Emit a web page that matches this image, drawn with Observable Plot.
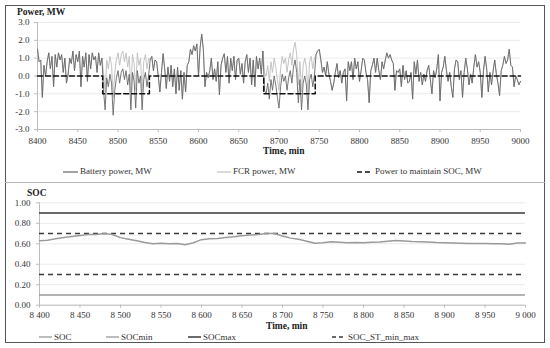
<!DOCTYPE html>
<html>
<head>
<meta charset="utf-8">
<script src="https://cdn.jsdelivr.net/npm/d3@7"></script>
<script src="https://cdn.jsdelivr.net/npm/@observablehq/plot@0.6"></script>
<style>
  html, body { margin: 0; padding: 0; background: #fff; }
  body { font-family: "Liberation Serif", "Times New Roman", serif; color: #333; }
  #fig { position: relative; width: 550px; height: 348px; overflow: hidden; }
  #frame { position: absolute; left: 5px; top: 5px; width: 540px; height: 338px; box-sizing: border-box; border: 1.5px solid #555; }
  #divider { position: absolute; left: 5px; top: 182px; width: 540px; height: 1px; background: #b5b5b5; }
  .plot { position: absolute; left: 0; }
  .title { position: absolute; font-weight: bold; font-size: 9.5px; line-height: 1; white-space: nowrap; color: #222; }
  .leg { position: absolute; font-size: 9px; line-height: 1; white-space: nowrap; display: flex; align-items: center; color: #333; }
  .leg svg { display: block; margin-right: 2px; }
</style>
</head>
<body>
<div id="fig">
  <div id="frame"></div>
  <div id="divider"></div>
</div>
<script>
// ---------- data ----------
const startMinute = 8400;
const stepMinutes = 2;

// FCR power, MW (one value every 2 min, 8400 ... 9000)
const fcrPower = [
  1.5, 0.8, 0.9, -1.2, 0.6, 0.0, 0.8, 1.3, 0.4, 1.1,
  -0.6, 1.2, 0.5, 1.3, 0.9, 1.2, 0.2, 1.0, -0.4, 0.1,
  1.0, 0.7, 1.4, 0.3, 1.2, 0.8, 1.4, -0.6, 1.1, 0.5,
  1.3, -0.3, 1.2, 0.4, 1.3, 0.9, 1.1, 0.2, 1.3, 0.6,
  1.0, 0.2, -0.9, 0.9, 0.4, 1.1, 0.6, -1.2, 0.2, 0.9,
  1.3, 0.6, 1.2, 1.4, 0.8, 1.3, 0.5, 1.1, -0.9, 1.2,
  0.7, -0.8, 1.3, 0.6, 1.0, -0.9, 0.8, 1.2, 0.4, 1.0,
  0.9, 1.1, 0.3, 0.9, 0.8, 0.0, -0.9, 0.2, 1.25, 0.4,
  -0.7, 0.5, -0.3, 0.6, -0.6, 0.4, -1.0, 0.5, -0.8, 0.3,
  -1.3, 0.2, -0.9, 0.6, 0.8, 1.5, 1.2, 1.7, 1.4, 1.8,
  0.0, 1.6, 2.35, 1.5, -0.6, 0.2, -0.1, 0.3, 1.0, -0.2,
  0.4, -0.3, 0.8, -1.05, 0.6, 1.0, 1.25, 0.2, 1.1, -0.4,
  1.0, 0.3, 1.1, -0.2, 0.9, 1.0, 0.1, 0.7, -0.4, 0.8,
  1.2, 0.2, 1.0, -0.5, 0.9, -0.6, 1.1, 0.4, 1.0, 0.1,
  1.4, 0.2, 0.0, 0.6, -0.3, 0.8, 0.2, 1.0, 0.5, -0.2,
  -0.8, 0.4, 1.1, 0.7, 1.0, 0.2, 0.9, 1.3, 0.6, 1.5,
  1.9, 1.2, -0.5, 0.8, -0.9, 0.6, 1.0, 0.5, -0.9, 0.8,
  1.1, 0.4, 1.0, 1.2, 1.4, 1.5, 0.9, 0.2, 0.5, 0.0,
  0.8, 0.1, -0.3, -0.8, -0.4, 0.2, 0.7, -0.1, 0.3, -0.4,
  0.2, 0.4, -1.4, 0.8, 0.3, 0.8, -0.2, 1.0, 0.4, 0.8,
  -0.3, 0.3, 1.0, 0.9, 0.2, -0.2, -1.5, 0.3, 0.6, 1.0,
  0.2, 1.0, 0.3, -0.2, 0.8, 0.4, 0.9, 1.3, 1.0, 1.2,
  0.9, 0.7, -0.8, 0.3, 0.2, 0.4, -0.6, 0.6, -0.2, 0.3,
  -0.4, -0.3, 0.2, -1.3, 0.8, 0.1, 0.9, -0.3, 0.2, -0.5,
  0.1, -0.3, 0.3, 0.6, -0.2, -1.0, 0.3, -0.1, 0.4, 1.2,
  -1.4, 0.2, 0.5, 1.1, 0.3, -0.3, 0.2, -0.6, -1.2, 0.4,
  0.9, 0.8, -0.2, 0.3, -1.2, 0.2, 1.0, 0.4, -0.5, 0.1,
  -0.4, 0.5, 1.2, 0.5, 0.8, 0.2, -1.2, 0.3, 1.1, 0.4,
  -0.9, 0.2, -0.5, 0.3, 0.9, 0.1, -0.4, -1.1, 0.3, 0.6,
  1.1, 0.7, 0.9, 1.5, 0.6, 0.5, -0.6, 0.0, -0.2, -0.5,
  -0.3
];

// Battery power, MW, during the two SOC-maintenance windows (elsewhere it coincides with FCR power)
const batteryWindow1Start = 8482;
const batteryWindow1 = [
  -0.8, -1.9, -0.1, -0.6, 0.1, -0.4, -2.2, -0.8, -0.1, 0.3,
  -0.4, 0.2, 0.4, -0.2, 0.3, -0.5, 0.1, -1.9, 0.2, -0.3,
  -1.8, 0.3, -0.4, 0.0, -1.9, -0.2, 0.2, -0.6, 0.0
];
const batteryWindow2Start = 8682;
const batteryWindow2 = [
  -0.8, -1.0, -0.4, -1.3, -0.2, -0.8, 0.0, -0.5, -1.2, -1.8,
  -0.6, 0.1, -0.3, 0.0, -0.8, -0.1, 0.3, -0.4, 0.5, 0.9,
  0.2, -1.5, -0.2, -1.9, -0.4, 0.0, -0.5, -1.9, -0.2, 0.1,
  -0.6, 0.0
];

// Power to maintain SOC, MW (step line)
const maintTimes = [8400, 8481, 8481, 8539, 8539, 8681, 8681, 8745, 8745, 9000];
const maintPower = [0, 0, -1, -1, 0, 0, -1, -1, 0, 0];

// SOC
const socTimes = [
  8400, 8410, 8420, 8430, 8440, 8450, 8460, 8470, 8480, 8490,
  8500, 8510, 8520, 8530, 8540, 8550, 8560, 8570, 8580, 8590,
  8600, 8610, 8620, 8630, 8640, 8650, 8660, 8670, 8680, 8690,
  8700, 8710, 8720, 8730, 8740, 8750, 8760, 8770, 8780, 8790,
  8800, 8810, 8820, 8830, 8840, 8850, 8860, 8870, 8880, 8890,
  8900, 8910, 8920, 8930, 8940, 8950, 8960, 8970, 8980, 8990,
  9000
];
const socValues = [
  0.63, 0.635, 0.65, 0.66, 0.67, 0.68, 0.69, 0.69, 0.70, 0.69,
  0.66, 0.645, 0.63, 0.612, 0.60, 0.605, 0.60, 0.602, 0.59, 0.61,
  0.64, 0.648, 0.652, 0.66, 0.668, 0.678, 0.685, 0.69, 0.70, 0.70,
  0.675, 0.655, 0.645, 0.625, 0.605, 0.61, 0.62, 0.615, 0.61, 0.612,
  0.61, 0.615, 0.618, 0.625, 0.632, 0.628, 0.622, 0.62, 0.618, 0.612,
  0.61, 0.607, 0.605, 0.603, 0.602, 0.603, 0.601, 0.60, 0.595, 0.608,
  0.607
];
const socMin = [0.1];
const socMax = [0.9];
const socStMinMax = [0.3, 0.7];

// ticks and labels
const timeTicks = [8400, 8450, 8500, 8550, 8600, 8650, 8700, 8750, 8800, 8850, 8900, 8950, 9000];
const powerTicks = [-3, -2, -1, 0, 1, 2, 3];
const socTicks = [0, 0.2, 0.4, 0.6, 0.8, 1.0];
const topTitle = "Power, MW";
const bottomTitle = "SOC";
const xTitle = "Time, min";
const topLegendLabels = ["Battery power, MW", "FCR power, MW", "Power to maintain SOC, MW"];
const bottomLegendLabels = ["SOC", "SOCmin", "SOCmax", "SOC_ST_min_max"];

// ---------- build tables ----------
const fcrRows = fcrPower.map((p, i) => ({t: startMinute + i * stepMinutes, p}));
const batteryRows = fcrRows.map(({t, p}) => {
  const i1 = (t - batteryWindow1Start) / stepMinutes;
  if (i1 >= 0 && i1 < batteryWindow1.length) return {t, p: batteryWindow1[i1]};
  const i2 = (t - batteryWindow2Start) / stepMinutes;
  if (i2 >= 0 && i2 < batteryWindow2.length) return {t, p: batteryWindow2[i2]};
  return {t, p};
});
const maintRows = maintTimes.map((t, i) => ({t, p: maintPower[i]}));
const socRows = socTimes.map((t, i) => ({t, s: socValues[i]}));

const C = {
  battery: "#686868",
  fcr: "#c4c4c4",
  maint: "#111",
  soc: "#9a9a9a",
  socMin: "#9a9a9a",
  socMax: "#3a3a3a",
  st: "#3a3a3a",
  axis: "#bdbdbd",
  grid: "#ebebeb"
};
const baseStyle = {fontFamily: '"Liberation Serif", "Times New Roman", serif', fontSize: "9px", color: "#333", background: "transparent", overflow: "visible"};

const fig = document.getElementById("fig");

// ---------- top panel ----------
const topPlot = Plot.plot({
  width: 550, height: 150,
  marginLeft: 37, marginRight: 30, marginTop: 22, marginBottom: 21,
  style: baseStyle,
  x: {domain: [8400, 9000]},
  y: {domain: [-3, 3]},
  marks: [
    Plot.gridY(powerTicks, {stroke: C.grid, strokeOpacity: 1}),
    Plot.axisY(powerTicks, {tickSize: 3, tickPadding: 5, tickFormat: d => d.toFixed(1), stroke: C.axis, label: null}),
    Plot.axisX(timeTicks, {tickSize: 3, tickPadding: 5, tickFormat: d => String(d), stroke: C.axis, label: null}),
    Plot.ruleY([-3], {stroke: C.axis}),
    Plot.ruleX([8400], {stroke: C.axis}),
    Plot.line(fcrRows, {x: "t", y: "p", stroke: C.fcr, strokeWidth: 1}),
    Plot.line(batteryRows, {x: "t", y: "p", stroke: C.battery, strokeWidth: 0.9}),
    Plot.line(maintRows, {x: "t", y: "p", stroke: C.maint, strokeWidth: 1.5, strokeDasharray: "5,3"})
  ]
});
topPlot.classList.add("plot");
topPlot.style.top = "0px";
fig.appendChild(topPlot);

// ---------- bottom panel ----------
const bottomPlot = Plot.plot({
  width: 550, height: 142,
  marginLeft: 39, marginRight: 25, marginTop: 19.3, marginBottom: 20.3,
  style: baseStyle,
  x: {domain: [8400, 9000]},
  y: {domain: [0, 1]},
  marks: [
    Plot.gridY(socTicks, {stroke: C.grid, strokeOpacity: 1}),
    Plot.axisY(socTicks, {tickSize: 3, tickPadding: 6, tickFormat: d => d.toFixed(2), stroke: C.axis, label: null}),
    Plot.axisX(timeTicks, {tickSize: 3, tickPadding: 3.5, tickFormat: d => d3.format(",")(d).replace(",", " "), stroke: C.axis, label: null}),
    Plot.ruleY([0], {stroke: C.axis}),
    Plot.ruleX([8400], {stroke: C.axis}),
    Plot.ruleY(socMin, {stroke: C.socMin, strokeWidth: 1.5}),
    Plot.ruleY(socMax, {stroke: C.socMax, strokeWidth: 1.5}),
    Plot.ruleY(socStMinMax, {stroke: C.st, strokeWidth: 1.6, strokeDasharray: "5,4"}),
    Plot.line(socRows, {x: "t", y: "s", stroke: C.soc, strokeWidth: 1.5})
  ]
});
bottomPlot.classList.add("plot");
bottomPlot.style.top = "183px";
fig.appendChild(bottomPlot);

// ---------- titles ----------
function addText(cls, text, left, top) {
  const d = document.createElement("div");
  d.className = cls;
  d.textContent = text;
  d.style.left = left + "px";
  d.style.top = top + "px";
  fig.appendChild(d);
  return d;
}
addText("title", topTitle, 17, 8);
addText("title", bottomTitle, 27, 189);
addText("title", xTitle, 263, 147);
addText("title", xTitle, 266, 322);

// ---------- legends ----------
function addLegend(label, left, top, color, width, dash, swatchW) {
  const d = document.createElement("div");
  d.className = "leg";
  d.style.left = left + "px";
  d.style.top = top + "px";
  const w = swatchW || 14;
  d.innerHTML = `<svg width="${w}" height="6"><line x1="0" x2="${w}" y1="3" y2="3" stroke="${color}" stroke-width="${width}" ${dash ? `stroke-dasharray="${dash}"` : ""}/></svg>`;
  const s = document.createElement("span");
  s.textContent = label;
  d.appendChild(s);
  fig.appendChild(d);
}
addLegend(topLegendLabels[0], 63, 167, C.battery, 1.2, null, 15);
addLegend(topLegendLabels[1], 217, 167, C.fcr, 1.2, null, 14);
addLegend(topLegendLabels[2], 357, 167, C.maint, 1.6, "5,3", 16);

addLegend(bottomLegendLabels[0], 39, 332.5, C.soc, 1.3, null, 13);
addLegend(bottomLegendLabels[1], 106, 332.5, C.socMin, 1.3, null, 13);
addLegend(bottomLegendLabels[2], 188, 332.5, C.socMax, 1.5, null, 13);
addLegend(bottomLegendLabels[3], 332, 332.5, C.st, 1.5, "4,3", 14);
</script>
</body>
</html>
